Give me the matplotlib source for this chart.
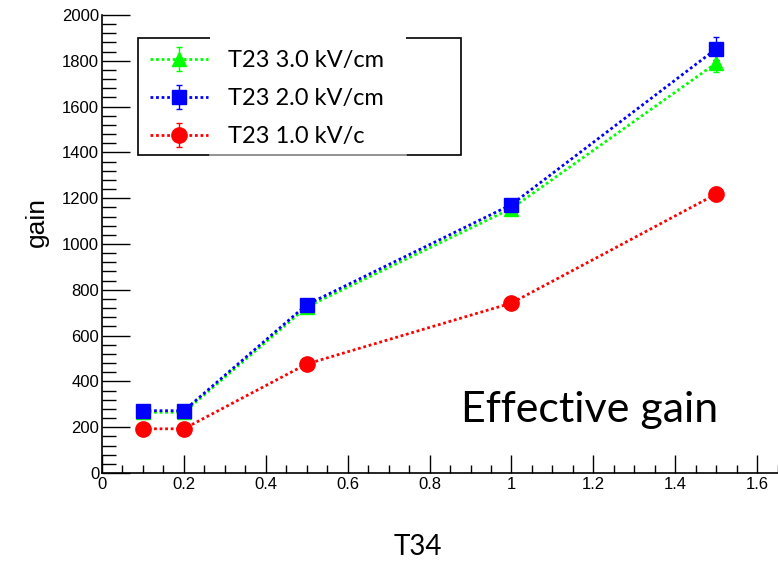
import matplotlib
matplotlib.use("Agg")
import matplotlib.pyplot as plt
from matplotlib.ticker import MultipleLocator
from matplotlib.patches import Rectangle

# data
t34 = [0.1, 0.2, 0.5, 1.0, 1.5]
gain_30 = [265, 265, 725, 1155, 1790]
gain_20 = [272, 272, 735, 1172, 1852]
gain_10 = [193, 193, 476, 742, 1218]
err_30 = [10, 10, 15, 25, 40]
err_20 = [10, 10, 15, 25, 50]
err_10 = [8, 8, 12, 18, 30]

labels = ["T23 3.0 kV/cm", "T23 2.0 kV/cm", "T23 1.0 kV/c"]

fig = plt.figure(figsize=(7.78, 5.62), dpi=100)
ax = fig.add_axes([102 / 778, 89 / 562, 676 / 778, 458 / 562])

dotted = (0, (1, 1))
series = [
    (gain_30, err_30, "#00ff00", "^", 10.5),
    (gain_20, err_20, "#0000ff", "s", 10),
    (gain_10, err_10, "#ff0000", "o", 11),
]
handles = []
for (g, e, c, m, ms), lab in zip(series, labels):
    h = ax.errorbar(t34, g, yerr=e, color=c, marker=m, markersize=ms,
                    linestyle=dotted, linewidth=2, elinewidth=1,
                    capsize=2, label=lab)
    handles.append(h)

ax.set_xlim(0, 1.651)
ax.set_ylim(0, 2000)
ax.spines["top"].set_visible(False)
ax.spines["right"].set_visible(False)
for s in ("left", "bottom"):
    ax.spines[s].set_linewidth(1.2)

ax.xaxis.set_major_locator(MultipleLocator(0.2))
ax.xaxis.set_minor_locator(MultipleLocator(0.05))
ax.yaxis.set_major_locator(MultipleLocator(200))
ax.yaxis.set_minor_locator(MultipleLocator(40))
ax.xaxis.set_major_formatter(plt.FuncFormatter(lambda v, p: f"{v:g}"))
ax.tick_params(axis="y", which="major", direction="in", length=20, width=1, labelsize=12, pad=2)
ax.tick_params(axis="y", which="minor", direction="in", length=10, width=1)
ax.tick_params(axis="x", which="major", direction="in", length=13, width=1, labelsize=12, pad=3)
ax.tick_params(axis="x", which="minor", direction="in", length=6, width=1)
for lbl in ax.get_xticklabels() + ax.get_yticklabels():
    lbl.set_fontfamily("Liberation Sans")

fig.text(37 / 778, 1 - 222 / 562, "gain", rotation=90, ha="center", va="center",
         fontsize=19, family="Liberation Sans")
fig.text(418 / 778, 1 - 547 / 562, "T34", ha="center", va="center",
         fontsize=20, family="Lato")
fig.text(590 / 778, 1 - 410 / 562, "Effective gain", ha="center", va="center",
         fontsize=31, family="Lato")

leg = ax.legend(handles=handles, loc="upper left",
                bbox_to_anchor=(150 / 778, 1 - 50 / 562),
                bbox_transform=fig.transFigure, frameon=False,
                borderpad=0, borderaxespad=0, labelspacing=0.72,
                handlelength=2.45, handletextpad=0.85,
                prop={"family": "Lato", "size": 17})

# legend box drawn by hand (top border partly hidden under a white text box)
x0, x1 = 138 / 778, 461 / 778
y0, y1 = 1 - 155 / 562, 1 - 38 / 562
fig.add_artist(Rectangle((x0, y0), x1 - x0, y1 - y0, transform=fig.transFigure,
                         fill=False, edgecolor="black", linewidth=1.2))
fig.add_artist(Rectangle((210 / 778, y1 - 0.006), 196 / 778, 0.012, transform=fig.transFigure,
                         facecolor="white", edgecolor="none"))
fig.add_artist(plt.Line2D([210 / 778, 406 / 778], [y0, y0], transform=fig.transFigure,
                          color="#aaaaaa", linewidth=1.2))

fig.savefig("out.png", dpi=100)
